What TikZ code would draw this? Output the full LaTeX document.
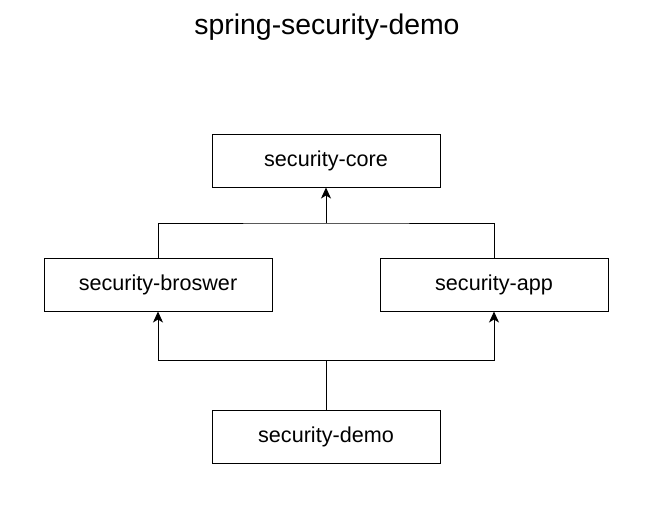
\documentclass[tikz,border=0pt]{standalone}
\usepackage{fontspec}
\setmainfont{Liberation Sans}
\usetikzlibrary{arrows.meta}

\begin{document}
\begin{tikzpicture}[x=1pt, y=-1pt]
\tikzset{boite/.style={draw, line width=1pt, minimum width=228pt, minimum height=53pt, inner sep=0pt, font=\fontsize{21.6}{26}\selectfont},
  lien/.style={line width=1pt},
  fleche/.style={line width=1pt, -{Stealth[length=11pt, width=10pt, inset=3pt]}}}
\useasboundingbox (0, 0) rectangle (662, 530);
\node[font=\fontsize{28.4}{34}\selectfont] (titre) at (327, 27) {spring-security-demo};
\node[boite] (core) at (326, 160.5) {security-core};
\node[boite] (broswer) at (158, 284.5) {security-broswer};
\node[boite] (app) at (494, 284.5) {security-app};
\node[boite] (demo) at (326, 436.5) {security-demo};
\coordinate (J1) at (326, 223);
\coordinate (J2) at (326, 360);
\draw[lien] (broswer.north) |- (J1) -| (app.north);
\draw[fleche] (J1) -- (core.south);
\draw[lien] (demo.north) -- (J2);
\draw[fleche] (J2) -| (broswer.south);
\draw[fleche] (J2) -| (app.south);
\end{tikzpicture}
\end{document}
